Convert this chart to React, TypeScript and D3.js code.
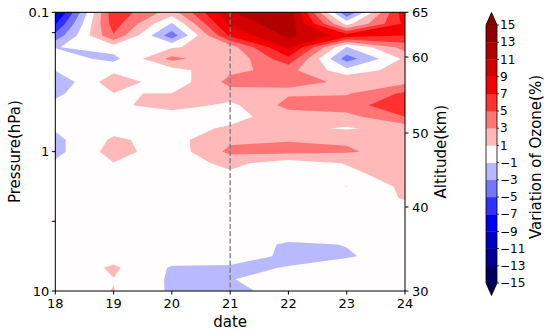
import React from "react";
import * as d3 from "d3";

// grid: 7 days x 25 pressure levels (0.1 -> 10 hPa, 12 per decade)
const dates = [18, 19, 20, 21, 22, 23, 24];
const pressureLevels = [
  0.1, 0.121, 0.147, 0.178, 0.215, 0.261, 0.316, 0.383, 0.464, 0.562, 0.681, 0.825,
  1, 1.21, 1.47, 1.78, 2.15, 2.61, 3.16, 3.83, 4.64, 5.62, 6.81, 8.25, 10,
];

// ozone variation (%) per day, from 0.1 hPa down to 10 hPa
const ozone18 = [-10.0, -7.2, -4.4, -1.1, 0.0, -0.95, -2.6, -1.4, -0.5, -0.3, -0.8, -1.5, -1.6, -0.7, -0.3, 0.1, 0.0, -0.1, 0.0, 0.1, 0.0, 0.0, -0.5, 0.0, 0.1];
const ozone19 = [6.5, 6.0, 4.8, 0.0, -1.6, 0.6, 2.2, 0.95, 0.5, 0.2, 0.4, 1.3, 1.8, 0.95, 0.3, 0.2, 0.1, 0.0, 0.0, 0.1, 0.0, 0.2, 1.3, 0.95, 1.05];
const ozone20 = [2.0, -1.2, -4.2, 0.8, 3.6, 0.2, -0.3, 1.05, 2.0, -0.3, 0.2, 0.3, -0.2, 0.0, 0.1, 0.0, 0.0, 0.1, 0.0, 0.0, 0.0, 0.0, -1.2, -1.3, -1.3];
const ozone21 = [10.9, 9.6, 7.4, 2.0, 1.2, 2.6, 3.6, 2.2, 0.5, 0.3, 1.3, 2.6, 3.5, 1.5, 0.6, 0.3, 0.2, 0.1, 0.0, 0.0, 0.1, 0.3, -1.4, -1.05, -1.5];
const ozone22 = [12.5, 12.3, 11.5, 9.5, 6.5, 3.6, 3.2, 2.8, 3.6, 2.1, 1.5, 2.9, 3.6, 0.0, 0.3, 0.2, 0.1, 0.0, 0.0, 0.0, -1.28, -1.5, -0.91, -0.5, -0.3];
const ozone23 = [-5.0, 0.3, 8.0, -1.1, -4.0, -0.3, 2.9, 2.8, 4.2, 2.3, 0.8, 2.8, 3.2, 1.1, 0.5, -1.03, 0.2, 0.1, 0.0, 0.0, -0.95, -1.15, -0.21, 0.0, 0.0];
const ozone24 = [8.5, 7.5, 7.0, 3.8, 1.4, 2.0, 2.5, 5.4, 6.3, 5.0, 1.8, 2.2, 2.3, 2.2, 1.8, 1.5, 1.1, 0.5, 0.3, 0.2, 0.0, -0.3, 0.0, 0.0, 0.0];
const ozoneByDate = [ozone18, ozone19, ozone20, ozone21, ozone22, ozone23, ozone24];

const levels = [-15, -13, -11, -9, -7, -5, -3, -1, 1, 3, 5, 7, 9, 11, 13, 15];
const xTicks = [18, 19, 20, 21, 22, 23, 24];
const pressureTicks = [0.1, 1, 10];
const pressureMinorTicks = [0.14, 3.16];
const altitudeTicks = [30, 40, 50, 60, 65];
const eventDate = 21;

const W = 550;
const H = 334;
const left = 55.3, right = 405, top = 12.3, bottom = 291;
const font = "DejaVu Sans, sans-serif";

// matplotlib "seismic", 256 entries
const seismicStops = [[0, 0, 0.3], [0, 0, 1], [1, 1, 1], [1, 0, 0], [0.5, 0, 0]];
function seismic(t: number) {
  const i = Math.min(255, Math.max(0, Math.floor(t * 256)));
  const u = (i / 255) * 4;
  const s = Math.min(3, Math.floor(u));
  const f = u - s;
  const a = seismicStops[s], b = seismicStops[s + 1];
  const c = a.map((v, j) => Math.round(255 * (v + f * (b[j] - v))));
  return d3.rgb(c[0], c[1], c[2]).formatHex();
}
const vmin = levels[0], vmax = levels[levels.length - 1];
const colorOf = (v: number) => seismic((v - vmin) / (vmax - vmin));

const fmt = (v: number) => (v < 0 ? "\u2212" + Math.abs(v) : String(v));

export default function App() {
  const x = d3.scaleLinear().domain([18, 24]).range([left, right]);
  const y = d3.scaleLog().domain([0.1, 10]).range([top, bottom]);
  const alt = d3.scaleLinear().domain([30, 40, 50, 60, 65]).range([291, 207, 133, 57, 12.3]);

  const nx = dates.length, ny = pressureLevels.length;
  const values: number[] = [];
  for (let k = 0; k < ny; k++) for (let j = 0; j < nx; j++) values.push(ozoneByDate[j][k]);

  // contour grid coords (sample i sits at i + 0.5) -> pixels
  const toPix = (pt: number[]) => {
    const d = dates[0] + (pt[0] - 0.5) * (dates[1] - dates[0]);
    const k = Math.max(0, Math.min(ny - 1, pt[1] - 0.5));
    const k0 = Math.min(ny - 2, Math.floor(k));
    const f = k - k0;
    const lp = Math.log10(pressureLevels[k0]) * (1 - f) + Math.log10(pressureLevels[k0 + 1]) * f;
    return [x(d), y(Math.pow(10, lp))];
  };

  const bands = d3.contours().size([nx, ny]).thresholds(levels)(values);
  const paths = bands.map((g, i) => {
    let dStr = "";
    g.coordinates.forEach((poly) =>
      poly.forEach((ring) => {
        dStr += "M" + ring.map((p) => toPix(p).map((v) => v.toFixed(2)).join(",")).join("L") + "Z";
      })
    );
    const fill = i < levels.length - 1 ? colorOf((levels[i] + levels[i + 1]) / 2) : colorOf(vmax + 1);
    return { d: dStr, fill };
  });

  // colorbar
  const cbL = 486, cbR = 497;
  const cbY = d3.scaleLinear().domain([vmin, vmax]).range([283, 25]);
  const cbMid = (cbL + cbR) / 2;

  return (
    <svg width={W} height={H} style={{ position: "absolute", left: 0, top: 0, background: "#fff" }} fontFamily={font}>
      <defs>
        <clipPath id="plot">
          <rect x={left} y={top} width={right - left} height={bottom - top} />
        </clipPath>
      </defs>
      <g clipPath="url(#plot)">
        <rect x={left} y={top} width={right - left} height={bottom - top} fill={colorOf(vmin - 1)} />
        {paths.map((p, i) => (
          <path key={i} d={p.d} fill={p.fill} fillRule="evenodd" />
        ))}
        <line x1={x(eventDate)} x2={x(eventDate)} y1={top} y2={bottom} stroke="#7a7a7a" strokeWidth={1.3} strokeDasharray="5,2.3" />
      </g>

      {/* frame */}
      <rect x={left} y={top} width={right - left} height={bottom - top} fill="none" stroke="#000" strokeWidth={1} />

      {/* x axis */}
      {xTicks.map((t) => (
        <g key={"x" + t}>
          <line x1={x(t)} x2={x(t)} y1={bottom} y2={bottom + 3.5} stroke="#000" />
          <text x={x(t)} y={bottom + 17} fontSize={13} textAnchor="middle">{t}</text>
        </g>
      ))}
      <text x={(left + right) / 2} y={327} fontSize={15} textAnchor="middle">date</text>

      {/* left pressure axis */}
      {pressureTicks.map((t) => (
        <g key={"p" + t}>
          <line x1={left - 3.5} x2={left} y1={y(t)} y2={y(t)} stroke="#000" />
          <text x={left - 6} y={y(t)} dy="0.35em" fontSize={13} textAnchor="end">{t}</text>
        </g>
      ))}
      {pressureMinorTicks.map((t) => (
        <line key={"pm" + t} x1={left - 3.5} x2={left} y1={y(t)} y2={y(t)} stroke="#000" />
      ))}
      <text transform={`translate(20,${(top + bottom) / 2}) rotate(-90)`} fontSize={15} textAnchor="middle">Pressure(hPa)</text>

      {/* right altitude axis */}
      {altitudeTicks.map((t) => (
        <g key={"a" + t}>
          <line x1={right} x2={right + 3.5} y1={alt(t)} y2={alt(t)} stroke="#000" />
          <text x={right + 7} y={alt(t)} dy="0.35em" fontSize={13}>{t}</text>
        </g>
      ))}
      <text transform={`translate(446,${(top + bottom) / 2}) rotate(-90)`} fontSize={15} textAnchor="middle">Altitude(km)</text>

      {/* colorbar */}
      <polygon points={`${cbL},${cbY(vmax)} ${cbR},${cbY(vmax)} ${cbMid},12.5`} fill={colorOf(vmax + 1)} />
      <polygon points={`${cbL},${cbY(vmin)} ${cbR},${cbY(vmin)} ${cbMid},295.5`} fill={colorOf(vmin - 1)} />
      {levels.slice(0, -1).map((lv, i) => (
        <rect key={"cb" + lv} x={cbL} y={cbY(levels[i + 1])} width={cbR - cbL} height={cbY(lv) - cbY(levels[i + 1]) + 0.3} fill={colorOf((lv + levels[i + 1]) / 2)} />
      ))}
      <polygon
        points={`${cbL},${cbY(vmax)} ${cbMid},12.5 ${cbR},${cbY(vmax)} ${cbR},${cbY(vmin)} ${cbMid},295.5 ${cbL},${cbY(vmin)}`}
        fill="none"
        stroke="#000"
        strokeWidth={0.8}
      />
      {levels.map((lv) => (
        <g key={"cbt" + lv}>
          <line x1={cbR} x2={cbR + 2} y1={cbY(lv)} y2={cbY(lv)} stroke="#000" strokeWidth={0.8} />
          <text x={cbR + 3} y={cbY(lv)} dy="0.35em" fontSize={12}>{fmt(lv)}</text>
        </g>
      ))}
      <text transform={`translate(541,157) rotate(-90)`} fontSize={15} textAnchor="middle">Variation of Ozone(%)</text>
    </svg>
  );
}
